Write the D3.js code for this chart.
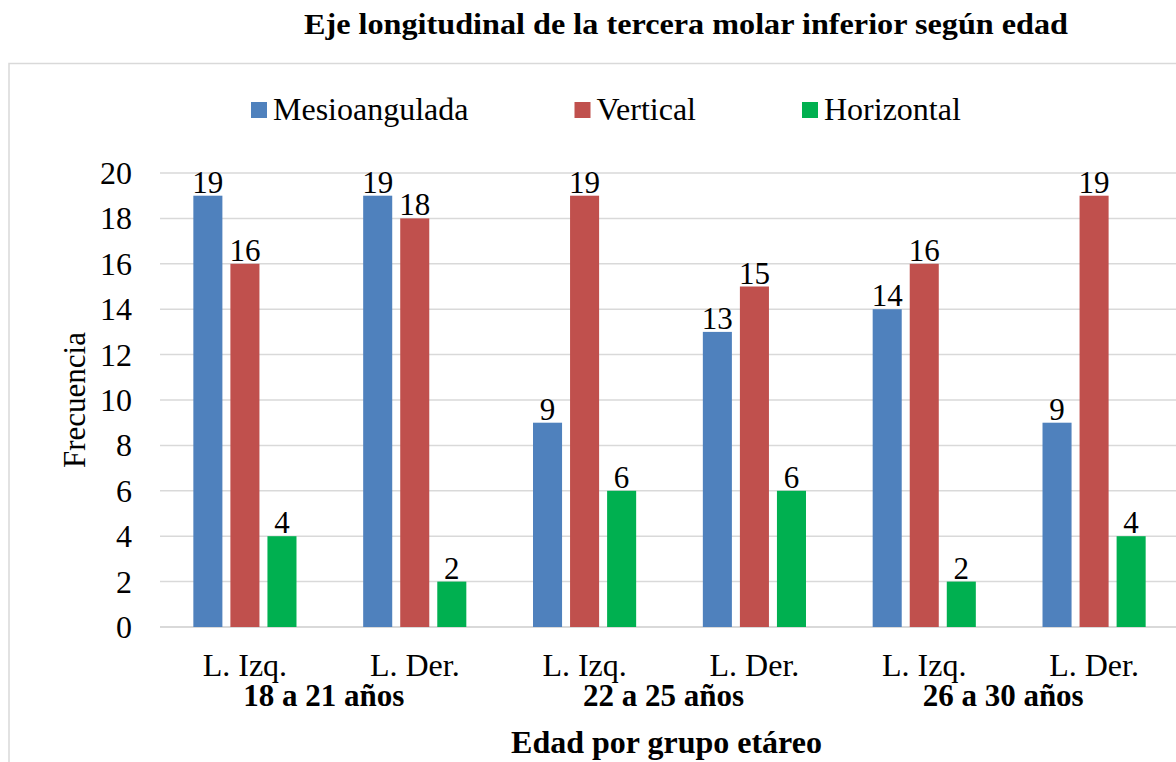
<!DOCTYPE html>
<html>
<head>
<meta charset="utf-8">
<script src="https://cdn.jsdelivr.net/npm/d3@7"></script>
<style>
  body { margin: 0; background: #fff; }
  svg text { font-family: "Liberation Serif", "Times New Roman", serif !important; fill: #000; }
</style>
</head>
<body>
<div class="container"></div>
<script>
const w = 1176;
const h = 762;
const serif = '"Liberation Serif", "Times New Roman", serif';

// data
const categories = ["L. Izq.", "L. Der.", "L. Izq.", "L. Der.", "L. Izq.", "L. Der."];
const ageGroups = ["18 a 21 años", "22 a 25 años", "26 a 30 años"];
const series = ["Mesioangulada", "Vertical", "Horizontal"];
const mesioangulada = [19, 19, 9, 13, 14, 9];
const vertical = [16, 18, 19, 15, 16, 19];
const horizontal = [4, 2, 6, 6, 2, 4];
const yTicks = [0, 2, 4, 6, 8, 10, 12, 14, 16, 18, 20];
const colors = ["#4f81bd", "#c0504d", "#00b050"];

const values = [mesioangulada, vertical, horizontal];
const rows = categories.map((c, i) => ({
  idx: i,
  label: c,
  vals: series.map((s, j) => ({ key: s, value: values[j][i] }))
}));

const plot = { left: 160, right: 1179, top: 173, bottom: 627 };

const svg = d3.select('.container').append('svg')
  .attr('width', w)
  .attr('height', h)
  .style('font-family', serif);

// outer chart frame
svg.append('rect')
  .attr('x', 9).attr('y', 63.5)
  .attr('width', 1200).attr('height', 800)
  .attr('fill', 'none')
  .attr('stroke', '#d9d9d9')
  .attr('stroke-width', 1.5);

svg.append('text')
  .attr('x', 686).attr('y', 34)
  .attr('text-anchor', 'middle')
  .attr('font-size', 30)
  .attr('font-weight', 'bold')
  .attr('textLength', 764)
  .attr('lengthAdjust', 'spacingAndGlyphs')
  .text('Eje longitudinal de la tercera molar inferior según edad');

const x0 = d3.scaleBand()
  .domain(d3.range(categories.length))
  .range([plot.left, plot.right]);

const x1 = d3.scaleBand()
  .domain(series)
  .range([0, x0.bandwidth()])
  .paddingInner(0.216)
  .paddingOuter(0.9);

const y = d3.scaleLinear()
  .domain([0, 20])
  .range([plot.bottom, plot.top]);

// gridlines
svg.append('g')
  .selectAll('line')
  .data(yTicks)
  .enter().append('line')
    .attr('x1', plot.left).attr('x2', w)
    .attr('y1', d => y(d)).attr('y2', d => y(d))
    .attr('stroke', '#d9d9d9')
    .attr('stroke-width', d => d === 0 ? 2 : 1.5);

const yAxis = d3.axisLeft(y)
  .tickValues(yTicks)
  .tickSize(0)
  .tickPadding(28);

const yg = svg.append('g')
  .attr('transform', `translate(${plot.left},0)`)
  .call(yAxis)
  .attr('font-family', serif);
yg.select('.domain').remove();
yg.selectAll('text')
  .attr('font-size', 32)
  .style('font-family', serif)
  .attr('dy', '0.33em');

svg.append('text')
  .attr('transform', 'translate(85,400) rotate(-90)')
  .attr('text-anchor', 'middle')
  .attr('font-size', 31)
  .text('Frecuencia');

// bars
const groups = svg.append('g')
  .selectAll('g')
  .data(rows)
  .enter().append('g')
    .attr('transform', d => `translate(${x0(d.idx)},0)`);

groups.selectAll('rect')
  .data(d => d.vals)
  .enter().append('rect')
    .attr('x', d => x1(d.key))
    .attr('y', d => y(d.value))
    .attr('width', x1.bandwidth())
    .attr('height', d => y(0) - y(d.value))
    .attr('fill', (d, i) => colors[i]);

groups.selectAll('text')
  .data(d => d.vals)
  .enter().append('text')
    .attr('x', d => x1(d.key) + x1.bandwidth() / 2)
    .attr('y', d => y(d.value) - 3)
    .attr('text-anchor', 'middle')
    .attr('font-size', 31)
    .style('font-family', serif)
    .text(d => d.value);

// category labels
svg.append('g')
  .selectAll('text')
  .data(rows)
  .enter().append('text')
    .attr('x', d => x0(d.idx) + x0.bandwidth() / 2)
    .attr('y', 676)
    .attr('text-anchor', 'middle')
    .attr('font-size', 32)
    .text(d => d.label);

svg.append('g')
  .selectAll('text')
  .data(ageGroups)
  .enter().append('text')
    .attr('x', (d, i) => x0(i * 2) + x0.bandwidth() - 6)
    .attr('y', 706)
    .attr('text-anchor', 'middle')
    .attr('font-size', 31)
    .attr('font-weight', 'bold')
    .text(d => d);

svg.append('text')
  .attr('x', (plot.left + plot.right) / 2 - 3)
  .attr('y', 753)
  .attr('text-anchor', 'middle')
  .attr('font-size', 32)
  .attr('font-weight', 'bold')
  .text('Edad por grupo etáreo');

// legend
const legend = svg.append('g').attr('transform', 'translate(251,102)');
let lx = 0;
series.forEach((s, i) => {
  const item = legend.append('g').attr('transform', `translate(${lx},0)`);
  item.append('rect')
    .attr('width', 16).attr('height', 16)
    .attr('fill', colors[i]);
  const t = item.append('text')
    .attr('x', 22).attr('y', 18)
    .attr('font-size', 32)
    .style('font-family', serif)
    .text(s);
  lx += 22 + t.node().getComputedTextLength() + 106;
});
</script>
</body>
</html>
